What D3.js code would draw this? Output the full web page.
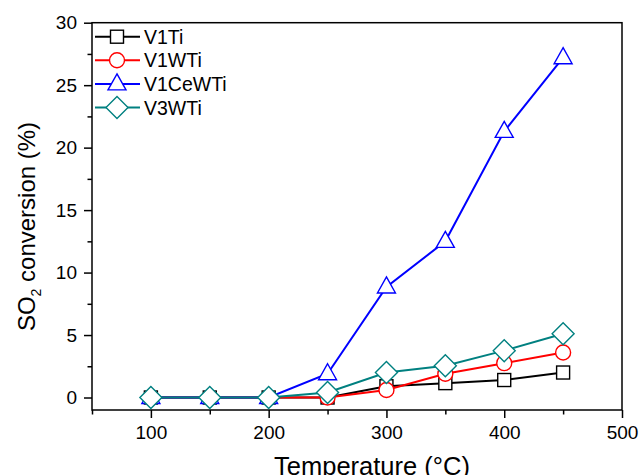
<!DOCTYPE html>
<html>
<head>
<meta charset="utf-8">
<script src="https://cdn.jsdelivr.net/npm/d3@7"></script>
<style>
  body { margin: 0; background: #fff; }
  text { font-family: "Liberation Sans", Arial, sans-serif; }
</style>
</head>
<body>
<svg id="chart" width="640" height="475"></svg>
<script>
// data
const temps = [100, 150, 200, 250, 300, 350, 400, 450];
const v1ti = [0, 0, 0, 0, 0.9, 1.15, 1.4, 2.0];
const v1wti = [0, 0, 0, 0, 0.6, 1.9, 2.75, 3.6];
const v1cewti = [0, 0, 0, 1.9, 8.85, 12.5, 21.3, 27.2];
const v3wti = [0, 0, 0, 0.4, 2.0, 2.55, 3.75, 5.1];
const xTicks = [100, 200, 300, 400, 500];
const yTicks = [0, 5, 10, 15, 20, 25, 30];

const series = [
  { name: 'V1Ti', values: v1ti, color: '#000000', shape: 'square' },
  { name: 'V1WTi', values: v1wti, color: '#ff0000', shape: 'circle' },
  { name: 'V1CeWTi', values: v1cewti, color: '#0000ff', shape: 'triangle' },
  { name: 'V3WTi', values: v3wti, color: '#008080', shape: 'diamond' }
];

const svg = d3.select('#chart');
const mLeft = 92, mRight = 622, mTop = 22.7, mBottom = 410;

const x = d3.scaleLinear().domain([50, 500]).range([mLeft, mRight]);
const y = d3.scaleLinear().domain([-1, 30]).range([mBottom, mTop]);

// frame
svg.append('rect')
  .attr('x', mLeft).attr('y', mTop)
  .attr('width', mRight - mLeft).attr('height', mBottom - mTop)
  .attr('fill', 'none').attr('stroke', '#000').attr('stroke-width', 1.5);

// x axis
const xAxis = svg.append('g').attr('transform', `translate(0,${mBottom})`);
xAxis.call(d3.axisBottom(x).tickValues(xTicks).tickSize(8).tickPadding(8))
  .call(g => g.select('.domain').remove());
xAxis.append('g').call(d3.axisBottom(x).tickValues([50, 150, 250, 350, 450]).tickSize(4.5).tickFormat(''))
  .call(g => g.select('.domain').remove());

// y axis
const yAxis = svg.append('g').attr('transform', `translate(${mLeft},0)`);
yAxis.call(d3.axisLeft(y).tickValues(yTicks).tickSize(8).tickPadding(7))
  .call(g => g.select('.domain').remove());
yAxis.append('g').call(d3.axisLeft(y).tickValues([2.5, 7.5, 12.5, 17.5, 22.5, 27.5]).tickSize(4.5).tickFormat(''))
  .call(g => g.select('.domain').remove());

svg.selectAll('.tick line').attr('stroke', '#000').attr('stroke-width', 1.5);
svg.selectAll('.tick text').attr('font-size', 19).attr('fill', '#000')
  .style('font-family', '"Liberation Sans", Arial, sans-serif');

// axis titles
svg.append('text')
  .attr('x', 372).attr('y', 475)
  .attr('text-anchor', 'middle').attr('font-size', 25.5)
  .text('Temperature (°C)');

const yl = svg.append('text')
  .attr('transform', `translate(35,226.5) rotate(-90)`)
  .attr('text-anchor', 'middle').attr('font-size', 24);
yl.append('tspan').text('SO');
yl.append('tspan').attr('font-size', 14).attr('dy', 6).text('2');
yl.append('tspan').attr('dy', -6).text(' conversion (%)');

function drawMarker(g, shape, color) {
  if (shape === 'square') {
    g.append('rect').attr('x', -6.5).attr('y', -6.5).attr('width', 13).attr('height', 13);
  } else if (shape === 'circle') {
    g.append('circle').attr('r', 7.5);
  } else if (shape === 'triangle') {
    g.append('path').attr('d', 'M0,-10 L9,6 L-9,6 Z');
  } else {
    g.append('path').attr('d', 'M0,-11 L11,0 L0,11 L-11,0 Z');
  }
  g.selectAll('*').attr('fill', '#fff').attr('stroke', color).attr('stroke-width', 1.4);
}

const line = d3.line().x((d, i) => x(temps[i])).y(d => y(d));

series.forEach(s => {
  const g = svg.append('g');
  g.append('path')
    .attr('d', line(s.values))
    .attr('fill', 'none').attr('stroke', s.color).attr('stroke-width', 2);
  s.values.forEach((v, i) => {
    const m = g.append('g').attr('transform', `translate(${x(temps[i])},${y(v)})`);
    drawMarker(m, s.shape, s.color);
  });
});

// legend
const legend = svg.append('g');
series.forEach((s, i) => {
  const ly = 36.7 + i * 23.6;
  legend.append('line')
    .attr('x1', 95).attr('x2', 140).attr('y1', ly).attr('y2', ly)
    .attr('stroke', s.color).attr('stroke-width', 2);
  const m = legend.append('g').attr('transform', `translate(117,${ly})`);
  drawMarker(m, s.shape, s.color);
  legend.append('text')
    .attr('x', 144).attr('y', ly + 7)
    .attr('font-size', 19.5)
    .text(s.name);
});
</script>
</body>
</html>
